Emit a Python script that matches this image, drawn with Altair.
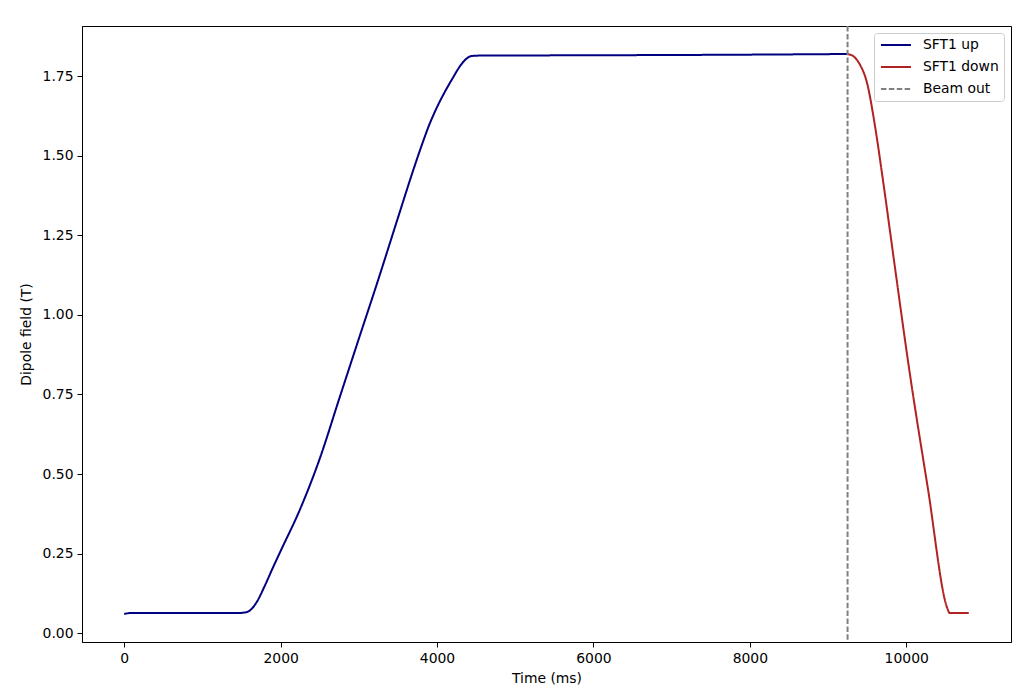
import altair as alt
import pandas as pd

# SFT1 ramp-up (time ms, field T)
up_t = [0, 80, 500, 1000, 1450, 1550, 1600, 1650, 1700, 1800, 1900, 2000, 2250, 2500,
        2750, 3000, 3250, 3500, 3700, 3800, 3900, 4000, 4100, 4200, 4300, 4380, 4450,
        4550, 6000, 8000, 9250]
up_v = [0.060, 0.063, 0.063, 0.063, 0.063, 0.065, 0.070, 0.082, 0.100, 0.150, 0.205,
        0.258, 0.390, 0.548, 0.737, 0.925, 1.112, 1.305, 1.458, 1.530, 1.597, 1.653,
        1.701, 1.744, 1.784, 1.806, 1.814, 1.815, 1.816, 1.818, 1.820]

# SFT1 ramp-down
down_t = [9250, 9330, 9400, 9500, 9600, 9700, 9850, 10040, 10275, 10530, 10555, 10800]
down_v = [1.820, 1.812, 1.790, 1.728, 1.595, 1.428, 1.160, 0.826, 0.458, 0.075, 0.063, 0.063]

beam_out_t = [9250]

series = ["SFT1 up", "SFT1 down", "Beam out"]
colors = ["#000080", "#b22222", "#808080"]
dashes = [[1, 0], [1, 0], [5.5, 2.4]]

lines = pd.DataFrame(
    {"t": up_t + down_t,
     "v": up_v + down_v,
     "series": ["SFT1 up"] * len(up_t) + ["SFT1 down"] * len(down_t),
     "order": list(range(len(up_t))) + list(range(len(down_t)))}
)
beam = pd.DataFrame({"t": beam_out_t, "series": ["Beam out"]})

FONT = "DejaVu Sans"

color_scale = alt.Scale(domain=series, range=colors)
dash_scale = alt.Scale(domain=series, range=dashes)
legend = alt.Legend(
    title=None, orient="top-right", offset=7, symbolType="M-3,0H3",
    symbolSize=100, symbolStrokeWidth=2, symbolOffset=10, labelFontSize=13.9,
    labelFont=FONT, labelColor="black", labelOffset=20, padding=5, rowPadding=7,
    strokeColor="#cccccc", fillColor="rgba(255,255,255,0.8)", cornerRadius=3,
)

x = alt.X("t:Q", title="Time (ms)",
          scale=alt.Scale(domain=[-540, 11340], nice=False, zero=False),
          axis=alt.Axis(values=[0, 2000, 4000, 6000, 8000, 10000], format="d"))
y_scale = alt.Scale(domain=[-0.028, 1.908], nice=False, zero=False)

line_layer = alt.Chart(lines).mark_line(strokeWidth=2, interpolate="monotone").encode(
    x=x,
    y=alt.Y("v:Q", title="Dipole field (T)", scale=y_scale,
            axis=alt.Axis(values=[0, 0.25, 0.5, 0.75, 1.0, 1.25, 1.5, 1.75], format=".2f")),
    color=alt.Color("series:N", scale=color_scale, legend=legend, sort=series),
    strokeDash=alt.StrokeDash("series:N", scale=dash_scale, legend=legend, sort=series),
    order="order:Q",
)

rule_layer = alt.Chart(beam).mark_rule(strokeWidth=2).encode(
    x=alt.X("t:Q"),
    color=alt.Color("series:N", scale=color_scale, legend=legend, sort=series),
    strokeDash=alt.StrokeDash("series:N", scale=dash_scale, legend=legend, sort=series),
)

chart = alt.layer(line_layer, rule_layer).properties(
    width=929, height=616,
    autosize=alt.AutoSizeParams(type="none"),
    padding={"left": 74, "top": 18, "right": 16, "bottom": 48},
).configure_view(
    stroke="black", strokeWidth=1
).configure_axis(
    grid=False, domain=True, domainColor="black", domainWidth=1,
    tickColor="black", tickSize=5, tickWidth=1,
    labelFont=FONT, labelFontSize=13.9, labelColor="black", labelPadding=4,
    titleFont=FONT, titleFontSize=13.9, titleColor="black", titleFontWeight="normal",
).configure_axisX(titlePadding=7).configure_axisY(titlePadding=9)

chart.save("out.html", embed_options={"renderer": "svg", "actions": False})
